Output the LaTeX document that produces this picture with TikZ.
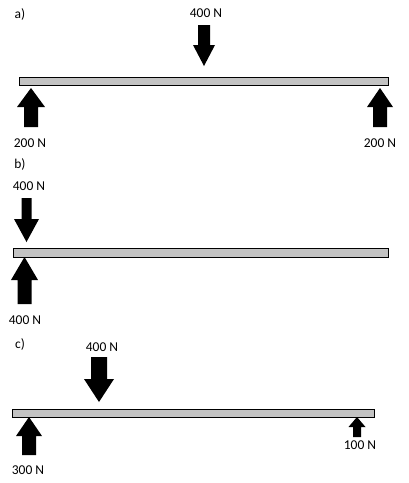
\documentclass[tikz,border=0pt]{standalone}
\usepackage{fontspec}
\setmainfont{Carlito}
\newcommand\forcearr[7]{% tipx, tipy, headhalf, shafthalf, headlen, len, name
  \fill[black] (#1,#2) coordinate (#7)
    -- ++(#3,#5) -- ++(-#3+#4,0) -- ($(#1,#2)+(#4,#6)$) -- ++(-2*#4,0)
    -- ($(#1,#2)+(-#4,#5)$) -- ++(-#3+#4,0) -- cycle;}
\usetikzlibrary{calc}
\begin{document}
\begin{tikzpicture}[x=1pt,y=-1pt,
  beam/.style={draw=black, line width=0.9pt, fill={rgb,255:red,195;green,195;blue,195}},
  lbl/.style={inner sep=0pt, font=\fontsize{13.5}{16}\selectfont}]
\useasboundingbox (0,0) rectangle (408,483);
% a)
\node[lbl] (la) at (20,14) {a)};
\draw[beam] (19,77) rectangle (388,85);
\coordinate (beamA) at (19,77);
\node[lbl] (fa1) at (206,13) {400 N};
\forcearr{204}{66}{11}{6}{-21}{-41}{aa1}
\forcearr{31}{88}{14}{7}{19}{39}{aa2}
\forcearr{380}{88}{13}{7}{19}{39}{aa3}
\node[lbl] (fa2) at (30,143) {200 N};
\node[lbl] (fa3) at (380,143) {200 N};
% b)
\node[lbl] (lb) at (20,164) {b)};
\draw[beam] (13,248) rectangle (388,257);
\node[lbl] (fb1) at (29,186) {400 N};
\forcearr{26.5}{242}{12.5}{5}{-23}{-44}{ab1}
\forcearr{24.5}{257}{13.5}{7}{23}{47}{ab2}
\node[lbl] (fb2) at (25,320) {400 N};
% c)
\node[lbl] (lc) at (20,344) {c)};
\draw[beam] (12,409) rectangle (374,417);
\node[lbl] (fc1) at (102,347) {400 N};
\forcearr{99}{402}{15}{8}{-23}{-45}{ac1}
\forcearr{29}{417}{13}{7}{19}{38}{ac2}
\forcearr{357}{417}{8.5}{4}{10}{20}{ac3}
\node[lbl] (fc2) at (28,470) {300 N};
\node[lbl] (fc3) at (360,445) {100 N};
\end{tikzpicture}
\end{document}
